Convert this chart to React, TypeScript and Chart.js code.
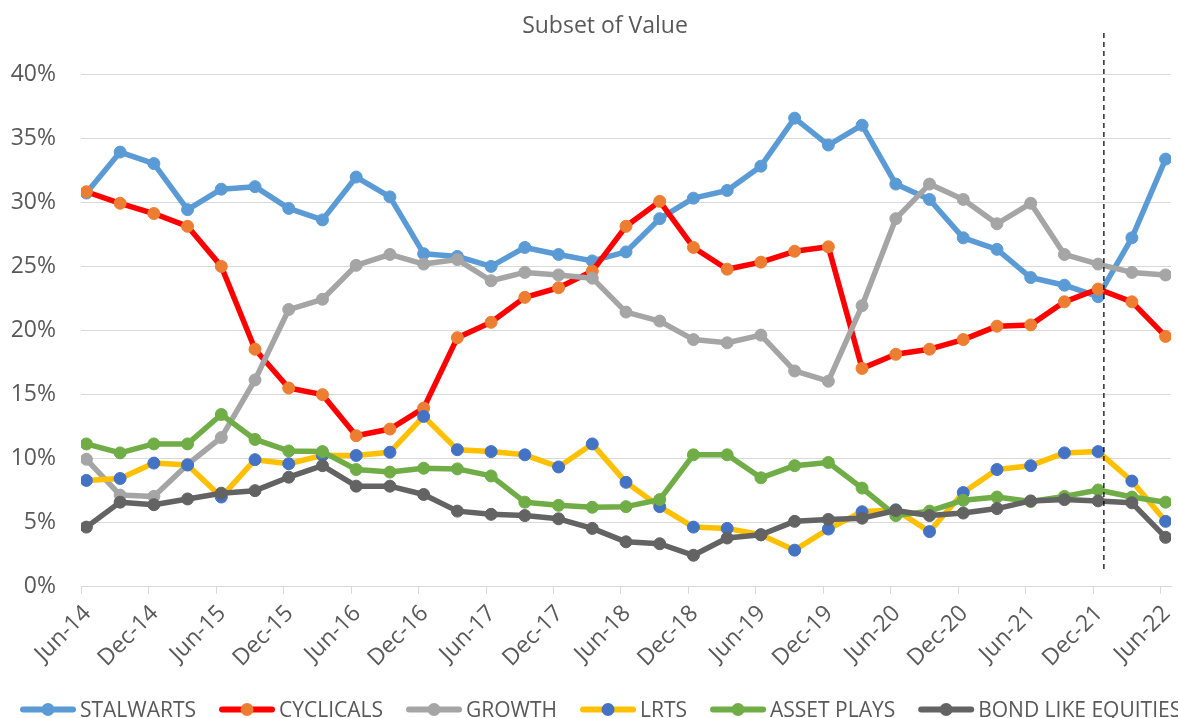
import React, { useEffect, useRef } from "react";
import { Chart, registerables } from "chart.js";

Chart.register(...registerables);

const quarters = [
  "Jun-14", "Sep-14", "Dec-14", "Mar-15", "Jun-15", "Sep-15", "Dec-15", "Mar-16",
  "Jun-16", "Sep-16", "Dec-16", "Mar-17", "Jun-17", "Sep-17", "Dec-17", "Mar-18",
  "Jun-18", "Sep-18", "Dec-18", "Mar-19", "Jun-19", "Sep-19", "Dec-19", "Mar-20",
  "Jun-20", "Sep-20", "Dec-20", "Mar-21", "Jun-21", "Sep-21", "Dec-21", "Mar-22",
  "Jun-22",
];
const tickLabels = quarters.filter((_, i) => i % 2 === 0);

const stalwarts = [30.7, 33.9, 33.0, 29.4, 31.0, 31.2, 29.5, 28.6, 31.95, 30.4, 25.96, 25.75, 24.97, 26.45, 25.9, 25.4, 26.1, 28.7, 30.3, 30.9, 32.8, 36.55, 34.45, 36.0, 31.4, 30.2, 27.2, 26.3, 24.1, 23.5, 22.6, 27.2, 33.35];
const cyclicals = [30.8, 29.9, 29.1, 28.1, 24.97, 18.5, 15.47, 14.95, 11.74, 12.26, 13.9, 19.4, 20.6, 22.55, 23.3, 24.6, 28.1, 30.05, 26.45, 24.75, 25.3, 26.15, 26.5, 17.0, 18.1, 18.5, 19.25, 20.3, 20.4, 22.2, 23.2, 22.2, 19.5];
const growth = [9.9, 7.1, 7.0, 9.5, 11.6, 16.1, 21.6, 22.4, 25.05, 25.9, 25.15, 25.5, 23.85, 24.5, 24.3, 24.05, 21.4, 20.7, 19.25, 19.0, 19.6, 16.8, 16.0, 21.9, 28.7, 31.4, 30.2, 28.3, 29.9, 25.9, 25.15, 24.5, 24.3];
const lrts = [8.25, 8.4, 9.6, 9.45, 6.95, 9.87, 9.55, 10.2, 10.2, 10.45, 13.25, 10.65, 10.5, 10.25, 9.3, 11.1, 8.1, 6.2, 4.6, 4.5, 4.0, 2.8, 4.45, 5.8, 5.95, 4.25, 7.3, 9.1, 9.4, 10.4, 10.5, 8.2, 5.05];
const assetPlays = [11.1, 10.4, 11.1, 11.1, 13.4, 11.45, 10.55, 10.5, 9.1, 8.9, 9.2, 9.15, 8.6, 6.55, 6.3, 6.15, 6.2, 6.75, 10.25, 10.25, 8.45, 9.4, 9.65, 7.65, 5.5, 5.85, 6.7, 6.95, 6.6, 7.0, 7.5, 6.95, 6.55];
const bondLike = [4.6, 6.55, 6.35, 6.8, 7.25, 7.45, 8.5, 9.4, 7.8, 7.8, 7.15, 5.85, 5.6, 5.5, 5.25, 4.5, 3.45, 3.3, 2.4, 3.75, 4.0, 5.05, 5.2, 5.3, 5.9, 5.5, 5.7, 6.05, 6.65, 6.75, 6.65, 6.5, 3.8];

const seriesNames = ["STALWARTS", "CYCLICALS", "GROWTH", "LRTS", "ASSET PLAYS", "BOND LIKE EQUITIES"];
const seriesValues = [stalwarts, cyclicals, growth, lrts, assetPlays, bondLike];
const lineColors = ["#5B9BD5", "#FF0000", "#A5A5A5", "#FFC000", "#70AD47", "#636363"];
const markerColors = ["#5B9BD5", "#ED7D31", "#A5A5A5", "#4472C4", "#70AD47", "#636363"];

const yTicks = [0, 5, 10, 15, 20, 25, 30, 35, 40];
const TITLE = "Subset of Value";
const DASH_LINE_AT = 30.17; // position along the quarter index
const DASH_TOP = 43.2;
const DASH_BOTTOM = 1.1;
const TICK_SHIFT = -0.15;

const FONT = "'Open Sans', 'Noto Sans', sans-serif";
const TEXT = "#595959";

const dashLinePlugin = {
  id: "dashLine",
  afterDatasetsDraw(chart: any) {
    const x = chart.scales.x.getPixelForValue(DASH_LINE_AT);
    const y1 = chart.scales.y.getPixelForValue(DASH_TOP);
    const y2 = chart.scales.y.getPixelForValue(DASH_BOTTOM);
    const ctx = chart.ctx;
    ctx.save();
    ctx.strokeStyle = "#000000";
    ctx.lineWidth = 1.25;
    ctx.setLineDash([5, 4]);
    ctx.beginPath();
    ctx.moveTo(x, y1);
    ctx.lineTo(x, y2);
    ctx.stroke();
    ctx.restore();
  },
};

const titlePlugin = {
  id: "customTitle",
  afterDraw(chart: any) {
    const ctx = chart.ctx;
    ctx.save();
    ctx.fillStyle = TEXT;
    ctx.font = `23px ${FONT}`;
    ctx.textAlign = "center";
    ctx.textBaseline = "middle";
    ctx.fillText(TITLE, chart.width / 2 + 16, 26);
    ctx.restore();
  },
};

const legendPlugin = {
  id: "customLegend",
  afterDraw(chart: any) {
    const ctx = chart.ctx;
    ctx.save();
    ctx.font = `21px ${FONT}`;
    ctx.textAlign = "left";
    ctx.textBaseline = "alphabetic";
    let x = 21;
    const yMid = 709.5;
    const yBase = chart.height - 1.5;
    seriesNames.forEach((name, i) => {
      ctx.strokeStyle = lineColors[i];
      ctx.lineWidth = 6;
      ctx.lineCap = "round";
      ctx.beginPath();
      ctx.moveTo(x + 2, yMid);
      ctx.lineTo(x + 52, yMid);
      ctx.stroke();
      ctx.fillStyle = markerColors[i];
      ctx.beginPath();
      ctx.arc(x + 27, yMid, 6.5, 0, Math.PI * 2);
      ctx.fill();
      ctx.fillStyle = TEXT;
      ctx.fillText(name, x + 59, yBase);
      x += 59 + ctx.measureText(name).width + 24;
    });
    ctx.restore();
  },
};

export default function App() {
  const ref = useRef<HTMLCanvasElement>(null);
  useEffect(() => {
    if (!ref.current) return;
    const n = seriesNames.length;
    const chart = new Chart(ref.current, {
      type: "line",
      data: {
        datasets: seriesNames.map((name, i) => ({
          label: name,
          data: seriesValues[i].map((v, j) => ({ x: j, y: v })),
          borderColor: lineColors[i],
          backgroundColor: markerColors[i],
          pointBackgroundColor: markerColors[i],
          pointBorderColor: markerColors[i],
          pointBorderWidth: 1,
          pointRadius: 6,
          pointHoverRadius: 6,
          borderWidth: 5.5,
          borderJoinStyle: "round",
          borderCapStyle: "round",
          tension: 0,
          fill: false,
          order: n - 1 - i,
        })),
      },
      options: {
        animation: false,
        responsive: false,
        events: [],
        layout: { padding: { left: 0, right: 5, top: 74, bottom: 40.5 } },
        plugins: {
          title: { display: false },
          legend: { display: false },
          tooltip: { enabled: false },
        },
        scales: {
          x: {
            type: "linear",
            min: -0.16,
            max: 32.16,
            afterBuildTicks: (scale: any) => {
              scale.ticks = tickLabels.map((_, i) => ({ value: i * 2 + TICK_SHIFT }));
            },
            afterFit: (scale: any) => {
              scale.height = 91.5;
              scale.paddingLeft = 0;
              scale.paddingRight = 0;
            },
            ticks: {
              autoSkip: false,
              maxRotation: 45,
              minRotation: 45,
              color: TEXT,
              font: { family: FONT, size: 23 },
              padding: 6,
              labelOffset: 6,
              callback: (_v: any, idx: number) => tickLabels[idx],
            },
            grid: {
              display: true,
              drawOnChartArea: false,
              drawTicks: true,
              tickLength: 8,
              color: "#D9D9D9",
              lineWidth: 1,
            },
            border: { display: true, color: "#D9D9D9", width: 1 },
          },
          y: {
            min: 0,
            max: 40,
            afterBuildTicks: (scale: any) => {
              scale.ticks = yTicks.map((v) => ({ value: v }));
            },
            afterFit: (scale: any) => {
              scale.width = 81;
            },
            ticks: {
              color: TEXT,
              font: { family: FONT, size: 23 },
              padding: 25,
              callback: (v: any) => v + "%",
            },
            grid: { color: "#D9D9D9", lineWidth: 1, drawTicks: false },
            border: { display: false },
          },
        },
      },
      plugins: [dashLinePlugin, titlePlugin, legendPlugin],
    });
    return () => chart.destroy();
  }, []);
  return (
    <div style={{ position: "fixed", left: 0, top: 0, width: 1178, height: 718, background: "#fff" }}>
      <canvas ref={ref} width={1178} height={718} style={{ width: 1178, height: 718, display: "block" }} />
    </div>
  );
}
